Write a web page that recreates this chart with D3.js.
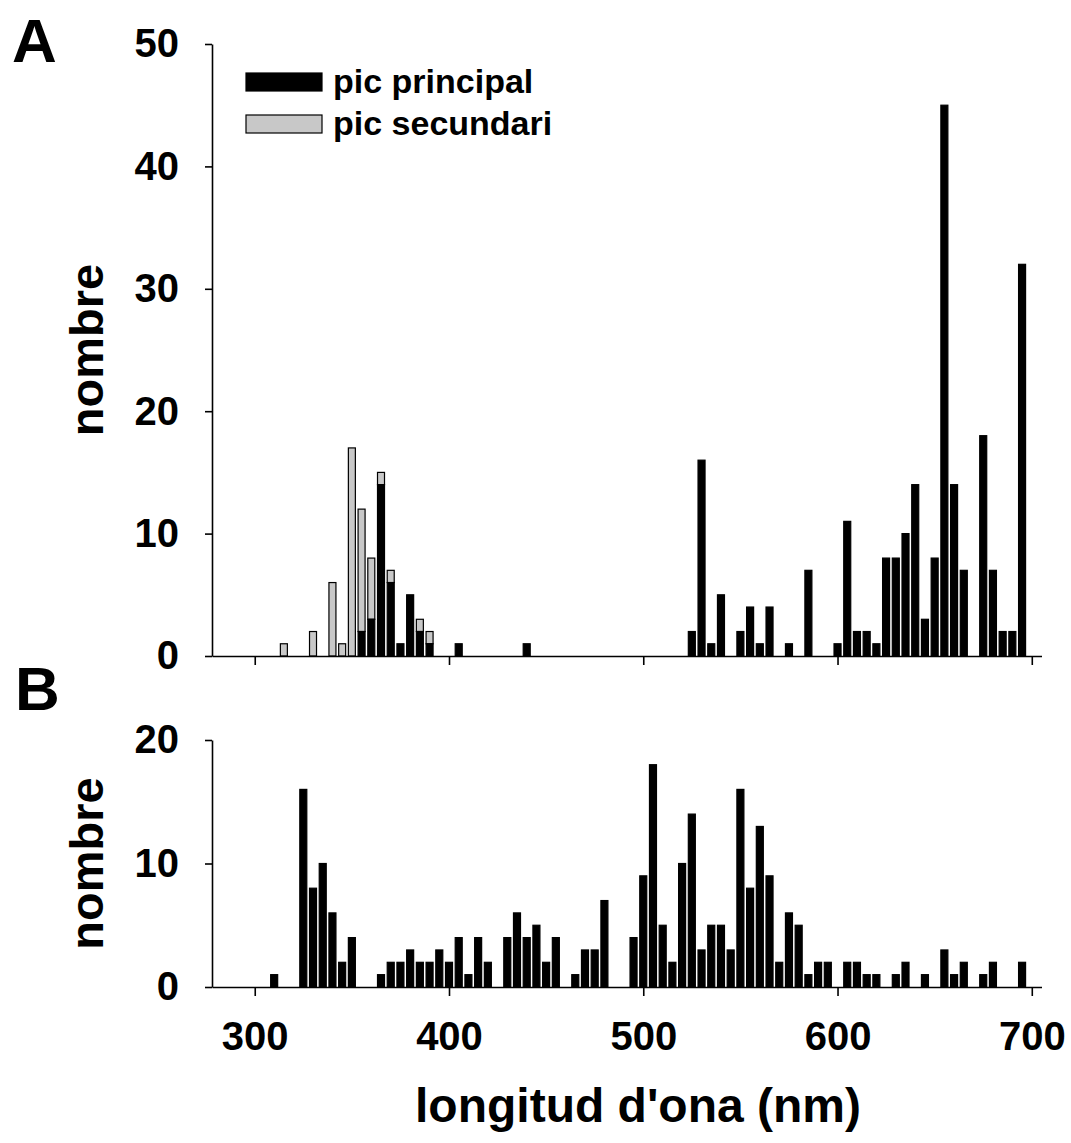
<!DOCTYPE html>
<html>
<head>
<meta charset="utf-8">
<script src="https://cdn.jsdelivr.net/npm/d3@7"></script>
<style>
  html, body { margin: 0; padding: 0; background: #fff; }
  svg { display: block; }
  text { font-family: "Liberation Sans", Arial, sans-serif; font-weight: bold; fill: #000; }
</style>
</head>
<body>
<svg id="chart" width="1071" height="1143"></svg>
<script>
// ---- Panel A data (bins in nm, counts) ----
const binsA = [315,330,340,345,350,355,360,365,370,375,380,385,390,405,440,
  525,530,535,540,550,555,560,565,575,585,600,605,610,615,620,625,630,635,640,645,650,655,660,665,675,680,685,690,695];
const principalA = [0,0,0,0,0,2,3,14,6,1,5,2,1,1,1,
  2,16,1,5,2,4,1,4,1,7,1,11,2,2,1,8,8,10,14,3,8,45,14,7,18,7,2,2,32];
const secondaryA = [1,2,6,1,17,10,5,1,1,0,0,1,1,0,0,
  0,0,0,0,0,0,0,0,0,0,0,0,0,0,0,0,0,0,0,0,0,0,0,0,0,0,0,0,0];

// ---- Panel B data ----
const binsB = [310,325,330,335,340,345,350,365,370,375,380,385,390,395,400,405,410,415,420,
  430,435,440,445,450,455,465,470,475,480,495,500,505,510,515,520,525,530,535,540,545,
  550,555,560,565,570,575,580,585,590,595,605,610,615,620,630,635,645,655,660,665,675,680,695];
const countsB = [1,16,8,10,6,2,4,1,2,2,3,2,2,3,2,4,1,4,2,
  4,6,4,5,2,4,1,3,3,7,4,9,18,5,2,10,14,3,5,5,3,
  16,8,13,9,2,6,5,1,2,2,2,2,1,1,1,2,1,3,1,2,1,2,2];

// ---- Tick labels / text ----
const xTicks = [300,400,500,600,700];
const yTicksA = [0,10,20,30,40,50];
const yTicksB = [0,10,20];
const legendLabels = ["pic principal","pic secundari"];
const xTitle = "longitud d'ona (nm)";
const yTitle = "nombre";

const svg = d3.select("#chart");
const x = d3.scaleLinear().domain([278, 705]).range([212, 1041.5]);
const yA = d3.scaleLinear().domain([0, 50]).range([656, 44]);
const yB = d3.scaleLinear().domain([0, 20]).range([987, 740]);
const barW = 7;

function styleAxis(g) {
  g.selectAll("path.domain").attr("stroke", "#000").attr("stroke-width", 1.6);
  g.selectAll(".tick line").attr("stroke", "#000").attr("stroke-width", 1.6);
  g.selectAll(".tick text").attr("font-size", 40).attr("font-family", "Liberation Sans, Arial, sans-serif").attr("font-weight", "bold");
}

// ===== Panel A =====
const gA = svg.append("g");
const dataA = binsA.map((b, i) => ({b, p: principalA[i], s: secondaryA[i]}));
// secondary stacked on top of principal
gA.selectAll("rect.sec").data(dataA.filter(d => d.s > 0)).join("rect")
  .attr("x", d => x(d.b) - barW/2)
  .attr("y", d => yA(d.p + d.s))
  .attr("width", barW)
  .attr("height", d => yA(d.p) - yA(d.p + d.s))
  .attr("fill", "#c8c8c8").attr("stroke", "#000").attr("stroke-width", 1.2);
gA.selectAll("rect.pri").data(dataA.filter(d => d.p > 0)).join("rect")
  .attr("x", d => x(d.b) - barW/2)
  .attr("y", d => yA(d.p))
  .attr("width", barW)
  .attr("height", d => yA(0) - yA(d.p))
  .attr("fill", "#000").attr("stroke", "#000").attr("stroke-width", 1.2);

const axAx = gA.append("g").attr("transform", `translate(0,${yA(0)})`)
  .call(d3.axisBottom(x).tickValues(xTicks).tickSize(9).tickSizeOuter(0).tickFormat(""));
styleAxis(axAx);
const ayA = gA.append("g").attr("transform", `translate(${x.range()[0]},0)`)
  .call(d3.axisLeft(yA).tickValues(yTicksA).tickSize(7).tickSizeOuter(0).tickPadding(26));
styleAxis(ayA);

gA.append("text").attr("x", 12).attr("y", 62).attr("font-size", 62).text("A");
gA.append("text").attr("transform", `translate(103,${(yA(0)+yA(50))/2}) rotate(-90)`)
  .attr("text-anchor", "middle").attr("font-size", 47).text(yTitle);

// legend
const legFills = ["#000", "#c8c8c8"];
const legY = [73, 115];
legendLabels.forEach((lab, i) => {
  gA.append("rect").attr("x", 246).attr("y", legY[i]).attr("width", 76).attr("height", 18)
    .attr("fill", legFills[i]).attr("stroke", "#000").attr("stroke-width", 1.2);
  gA.append("text").attr("x", 333).attr("y", legY[i] + 20).attr("font-size", 34).text(lab);
});

// ===== Panel B =====
const gB = svg.append("g");
const dataB = binsB.map((b, i) => ({b, v: countsB[i]}));
gB.selectAll("rect").data(dataB).join("rect")
  .attr("x", d => x(d.b) - barW/2)
  .attr("y", d => yB(d.v))
  .attr("width", barW)
  .attr("height", d => yB(0) - yB(d.v))
  .attr("fill", "#000").attr("stroke", "#000").attr("stroke-width", 1.2);

const axB = gB.append("g").attr("transform", `translate(0,${yB(0)})`)
  .call(d3.axisBottom(x).tickValues(xTicks).tickSize(9).tickSizeOuter(0).tickPadding(26));
styleAxis(axB);
const ayB = gB.append("g").attr("transform", `translate(${x.range()[0]},0)`)
  .call(d3.axisLeft(yB).tickValues(yTicksB).tickSize(7).tickSizeOuter(0).tickPadding(26));
styleAxis(ayB);

gB.append("text").attr("x", 15).attr("y", 710).attr("font-size", 62).text("B");
gB.append("text").attr("transform", `translate(103,${(yB(0)+yB(20))/2}) rotate(-90)`)
  .attr("text-anchor", "middle").attr("font-size", 47).text(yTitle);
gB.append("text").attr("x", 638).attr("y", 1122).attr("text-anchor", "middle")
  .attr("font-size", 48).text(xTitle);
</script>
</body>
</html>
